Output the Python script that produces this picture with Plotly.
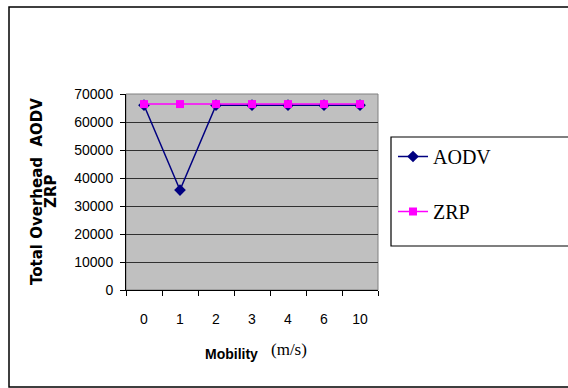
import plotly.graph_objects as go

# Mobility levels (m/s) and total routing overhead per protocol
mobility = ["0", "1", "2", "3", "4", "6", "10"]
aodv_overhead = [66000, 35700, 66000, 66000, 66000, 66000, 66000]
zrp_overhead = [66400, 66400, 66400, 66400, 66400, 66400, 66400]
y_ticks = [0, 10000, 20000, 30000, 40000, 50000, 60000, 70000]

W, H = 568, 388
L, R, T, B = 126, 378, 94, 290  # plot-area edges in pixels


def px(x):
    return (x - L) / (R - L)


def py(y):
    return (B - y) / (B - T)


fig = go.Figure()
fig.add_trace(go.Scatter(
    x=mobility, y=aodv_overhead, name="AODV", mode="lines+markers",
    line=dict(color="#000080", width=1.5),
    marker=dict(symbol="diamond", size=9, color="#000080"),
    legendgroup="a",
))
fig.add_trace(go.Scatter(
    x=mobility, y=zrp_overhead, name="ZRP", mode="lines+markers",
    line=dict(color="#FF00FF", width=1.5),
    marker=dict(symbol="square", size=8, color="#FF00FF"),
    legendgroup="b",
))

shapes = [
    # outer chart frame
    dict(type="rect", xref="paper", yref="paper",
         x0=px(9), x1=px(580), y0=py(387), y1=py(7),
         line=dict(color="black", width=1.5), layer="below"),
    # plot-area border
    dict(type="rect", xref="paper", yref="paper",
         x0=0, x1=1, y0=0, y1=1,
         line=dict(color="#808080", width=1), layer="below"),
    # legend frame
    dict(type="rect", xref="paper", yref="paper",
         x0=px(391), x1=px(580), y0=py(246), y1=py(137),
         line=dict(color="black", width=1.2)),
]

title_font = dict(family="DejaVu Sans", size=15, color="black")
annotations = [
    dict(text="<b>Total Overhead  AODV</b>", textangle=-90,
         xref="paper", yref="paper", x=px(37), y=py(192),
         xanchor="center", yanchor="middle", showarrow=False,
         font=title_font),
    dict(text="<b>ZRP</b>", textangle=-90,
         xref="paper", yref="paper", x=px(51), y=py(192),
         xanchor="center", yanchor="middle", showarrow=False,
         font=title_font),
    dict(text="<b>Mobility</b>", xref="paper", yref="paper",
         x=px(231), y=py(354), xanchor="center", yanchor="middle",
         showarrow=False,
         font=dict(family="Liberation Sans, Arial", size=14, color="black")),
    dict(text="(m/s)", xref="paper", yref="paper",
         x=px(289), y=py(349), xanchor="center", yanchor="middle",
         showarrow=False,
         font=dict(family="Liberation Serif, Times New Roman", size=17,
                   color="black")),
]

fig.update_layout(
    width=W, height=H,
    margin=dict(l=L, r=W - R, t=T, b=H - B, pad=0),
    paper_bgcolor="white",
    plot_bgcolor="#C0C0C0",
    shapes=shapes,
    annotations=annotations,
    showlegend=True,
    legend=dict(
        x=px(393), y=py(137), xanchor="left", yanchor="top",
        bgcolor="rgba(0,0,0,0)", borderwidth=0,
        tracegroupgap=26,
        font=dict(family="Liberation Serif, Times New Roman", size=20,
                  color="black"),
    ),
    xaxis=dict(
        type="category", tickson="boundaries", ticks="outside",
        ticklen=5, tickcolor="black", showgrid=False,
        showline=True, linecolor="black", linewidth=1,
        ticklabelstandoff=16,
        tickfont=dict(family="Liberation Sans, Arial", size=14,
                      color="black"),
        range=[-0.5, 6.5],
    ),
    yaxis=dict(
        range=[0, 70000], tickvals=y_ticks,
        ticktext=[str(v) for v in y_ticks],
        ticks="outside", ticklen=5, tickcolor="black",
        showline=True, linecolor="black", linewidth=1,
        showgrid=True, gridcolor="#303030", gridwidth=1,
        zeroline=False, ticklabelstandoff=4,
        tickfont=dict(family="Liberation Sans, Arial", size=14,
                      color="black"),
    ),
)

fig.write_html("out.html")
